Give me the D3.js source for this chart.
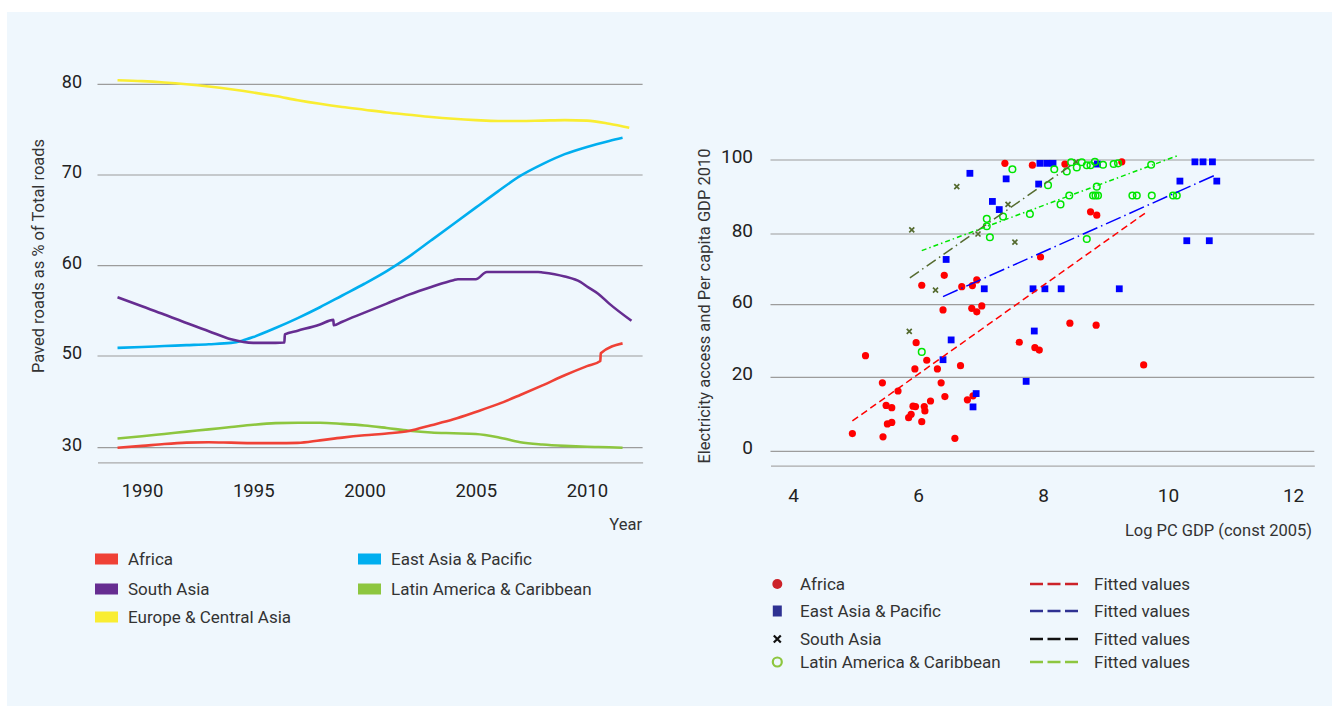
<!DOCTYPE html>
<html><head><meta charset="utf-8">
<script src="https://cdn.jsdelivr.net/npm/d3@7"></script>
<style>
body{margin:0;background:#fff;}
svg{display:block;font-family:Roboto,"Liberation Sans",sans-serif;}
</style></head><body>
<svg id="c" width="1339" height="708"></svg>
<script>
// ---------- LEFT CHART DATA ----------
const leftYTicks = [30, 50, 60, 70, 80];
const leftXTicks = [1990, 1995, 2000, 2005, 2010];
const leftNames = ["Africa", "East Asia & Pacific", "South Asia", "Latin America & Caribbean", "Europe & Central Asia"];
const leftColors = ["#ef4136", "#00aeef", "#662d91", "#8dc63f", "#f9ed32"];
const africa = [[1988.9,30.0],[1990,30.4],[1991,30.8],[1992,31.1],[1993,31.2],[1994,31.1],[1995,31.0],[1996,31.0],[1997,31.05],[1998,31.6],[1999,32.2],[2000,32.7],[2001,33.1],[2002,33.65],[2003,34.9],[2004,36.2],[2005,37.8],[2006,39.5],[2007,41.5],[2008,43.6],[2009,45.8],[2010,47.8],[2010.6,48.9],[2010.62,50.3],[2011.6,51.4]];
const eastAsia = [[1988.9,50.9],[1990,51.0],[1991,51.1],[1992,51.2],[1993,51.3],[1994,51.45],[1994.5,51.7],[1995,52.1],[1996,53.1],[1997,54.2],[1998,55.4],[1999,56.7],[2000,58.0],[2001,59.4],[2002,61.0],[2003,62.8],[2004,64.6],[2005,66.4],[2006,68.2],[2007,69.9],[2008,71.2],[2009,72.3],[2010,73.1],[2011,73.75],[2011.6,74.1]];
const southAsia = [[1988.9,56.5],[1990,55.5],[1991,54.6],[1992,53.65],[1993,52.75],[1994,51.85],[1995,51.45],[1996,51.45],[1996.4,51.5],[1996.42,52.4],[1997,52.8],[1998,53.5],[1998.6,54.0],[1998.62,53.4],[1999,53.8],[2000,54.8],[2001,55.8],[2002,56.8],[2003,57.65],[2004,58.4],[2004.2,58.5],[2005,58.5],[2005.5,59.3],[2006,59.3],[2007,59.3],[2007.8,59.3],[2008,59.25],[2009,58.8],[2009.7,58.2],[2010,57.7],[2010.5,56.9],[2011,55.8],[2012,53.9]];
const latinAm = [[1988.9,32.0],[1990,32.5],[1991,33.0],[1992,33.5],[1993,34.0],[1994,34.5],[1995,35.0],[1996,35.35],[1997,35.45],[1998,35.45],[1999,35.2],[2000,34.85],[2001,34.3],[2002,33.7],[2003,33.3],[2004,33.15],[2005,33.0],[2006,32.3],[2007,31.2],[2008,30.7],[2009,30.4],[2010,30.2],[2011,30.1],[2011.6,30.0]];
const europe = [[1988.9,80.45],[1990,80.35],[1991,80.2],[1992,80.0],[1993,79.75],[1994,79.45],[1995,79.1],[1996,78.7],[1997,78.25],[1998,77.85],[1999,77.5],[2000,77.2],[2001,76.9],[2002,76.65],[2003,76.4],[2004,76.2],[2005,76.05],[2006,75.95],[2007,75.95],[2008,76.0],[2009,76.05],[2010,76.0],[2011,75.65],[2011.9,75.2]];

// ---------- RIGHT CHART DATA ----------
const rightYTicks = [0, 20, 60, 80, 100];
const rightXTicks = [4, 6, 8, 10, 12];
const ptAfrica = [[7.39,99.1],[7.83,98.6],[8.35,98.9],[9.26,99.5],[8.76,86.0],[8.86,85.1],[7.96,73.5],[6.06,65.5],[6.42,68.3],[6.70,65.1],[6.87,65.4],[6.94,67.0],[6.40,57.1],[6.86,58.0],[6.94,56.1],[7.02,59.3],[8.43,49.8],[8.85,48.7],[7.62,39.3],[7.87,36.3],[7.94,35.0],[9.61,26.8],[5.97,39.1],[5.16,31.9],[6.14,29.4],[5.95,24.6],[6.31,24.6],[6.68,26.4],[5.43,18.5],[5.68,16.3],[6.37,18.5],[6.43,14.8],[5.49,12.4],[5.58,11.8],[5.92,12.2],[5.96,12.1],[6.10,12.1],[6.11,10.9],[6.20,13.6],[6.79,13.9],[6.88,15.0],[5.89,10.0],[5.85,9.1],[5.51,7.4],[5.58,7.8],[6.06,8.0],[4.95,4.8],[5.44,3.9],[6.59,3.5]];
const ptEastAsia = [[6.83,96.4],[7.41,94.9],[7.19,88.8],[7.30,86.6],[6.45,72.8],[7.06,64.5],[7.95,99.1],[8.06,99.1],[8.16,99.1],[8.87,98.9],[7.93,93.5],[10.19,94.3],[10.43,99.5],[10.56,99.5],[10.71,99.5],[10.78,94.3],[10.30,78.1],[10.66,78.1],[7.84,64.5],[8.03,64.5],[8.29,64.5],[9.22,64.5],[6.53,40.6],[6.40,29.7],[6.93,15.6],[6.88,12.0],[7.86,45.5],[7.73,18.9]];
const ptSouthAsia = [[6.62,92.8],[7.44,88.0],[5.90,81.1],[6.96,80.0],[7.55,77.7],[6.28,64.1],[5.86,45.3],[8.53,99.5]];
const ptLatin = [[7.51,97.5],[7.10,84.1],[7.10,82.1],[7.36,84.7],[7.15,79.1],[7.79,85.4],[8.08,93.2],[8.18,97.5],[8.38,96.9],[8.45,99.4],[8.54,98.0],[8.62,99.4],[8.70,98.6],[8.76,98.6],[8.83,99.5],[8.96,98.7],[9.13,98.9],[9.20,99.1],[9.73,98.7],[8.86,92.8],[8.42,90.4],[8.80,90.4],[8.84,90.4],[8.88,90.4],[9.43,90.4],[9.50,90.4],[9.74,90.4],[10.08,90.4],[10.14,90.4],[8.28,88.0],[8.70,78.6],[6.06,34.0]];
const fitAfrica = [[4.95,8.2],[9.63,85.6]];
const fitEastAsia = [[6.40,62.3],[10.78,96.1]];
const fitSouthAsia = [[5.87,67.6],[8.53,99.5]];
const fitLatin = [[6.06,75.3],[10.14,101.1]];
const rightNames = ["Africa", "East Asia & Pacific", "South Asia", "Latin America & Caribbean"];

// ---------- DRAW ----------
const svg = d3.select("#c");
svg.append("rect").attr("x",7).attr("y",12).attr("width",1325).attr("height",694).attr("fill","#eff7fd");

const gridColor = "#9c9c9c";
const textColor = "#222";

// LEFT
const xL = d3.scaleLinear().domain([1988, 2012.5]).range([97.5, 642.6]);
const yL = d3.scaleLinear().domain([30, 50, 60, 70, 80]).range([447.7, 356, 265.7, 175, 84.3]);
const gL = svg.append("g");
gL.append("g").selectAll("line").data(leftYTicks).join("line")
  .attr("x1", xL(1988)).attr("x2", xL(2012.5))
  .attr("y1", d => yL(d)).attr("y2", d => yL(d))
  .attr("stroke", gridColor).attr("stroke-width", 1.2);
gL.append("g").selectAll("text").data(leftYTicks).join("text")
  .attr("x", 82).attr("y", d => yL(d) - 3).attr("dy", "0.35em")
  .attr("text-anchor", "end").attr("font-size", 18).attr("fill", textColor)
  .text(d => d);
const axL = gL.append("g").attr("transform", "translate(0,462.3)")
  .call(d3.axisBottom(xL).tickValues(leftXTicks).tickSize(0).tickPadding(22).tickFormat(d3.format("d")));
axL.select(".domain").attr("stroke", "#aaa").attr("stroke-width", 1.2);
axL.selectAll("text").attr("font-size", 18.5).attr("fill", textColor).attr("font-family", "Roboto, sans-serif");
gL.append("text").attr("x", 642).attr("y", 530).attr("text-anchor", "end")
  .attr("font-size", 16.5).attr("fill", "#333").text("Year");
gL.append("text").attr("transform", "translate(44,256) rotate(-90)").attr("text-anchor", "middle")
  .attr("font-size", 16.5).attr("fill", "#333").text("Paved roads as % of Total roads");

const lineL = d3.line().x(d => xL(d[0])).y(d => yL(d[1])).curve(d3.curveMonotoneX);
const leftSeries = [latinAm, africa, europe, eastAsia, southAsia];
const leftSeriesColors = [leftColors[3], leftColors[0], leftColors[4], leftColors[1], leftColors[2]];
gL.append("g").selectAll("path").data(leftSeries).join("path")
  .attr("d", lineL).attr("fill", "none")
  .attr("stroke", (d, i) => leftSeriesColors[i]).attr("stroke-width", 2.6)
  .attr("stroke-linejoin", "round");

// Left legend
const legL = [
  {n: leftNames[0], c: leftColors[0], x: 95, y: 559},
  {n: leftNames[1], c: leftColors[1], x: 358, y: 559},
  {n: leftNames[2], c: leftColors[2], x: 95, y: 589},
  {n: leftNames[3], c: leftColors[3], x: 358, y: 589},
  {n: leftNames[4], c: leftColors[4], x: 95, y: 617}
];
const lg = gL.append("g").selectAll("g").data(legL).join("g");
lg.append("rect").attr("x", d => d.x).attr("y", d => d.y - 5.5).attr("width", 23).attr("height", 11).attr("fill", d => d.c);
lg.append("text").attr("x", d => d.x + 33).attr("y", d => d.y).attr("dy", "0.35em")
  .attr("font-size", 17).attr("fill", "#333").text(d => d.n);

// RIGHT
const xR = d3.scaleLinear().domain([3.64, 12.34]).range([770.5, 1314.3]);
const yR = d3.scaleLinear().domain([0, 20, 60, 80, 100]).range([451.3, 377.3, 304.7, 234, 160]);
const gR = svg.append("g");
gR.append("g").selectAll("line").data(rightYTicks).join("line")
  .attr("x1", xR(3.64)).attr("x2", xR(12.34))
  .attr("y1", d => yR(d)).attr("y2", d => yR(d))
  .attr("stroke", gridColor).attr("stroke-width", 1.2);
gR.append("g").selectAll("text").data(rightYTicks).join("text")
  .attr("x", 753).attr("y", d => yR(d) - 3.5).attr("dy", "0.35em")
  .attr("text-anchor", "end").attr("font-size", 19).attr("fill", textColor)
  .text(d => d);
const axR = gR.append("g").attr("transform", "translate(0,465.7)")
  .call(d3.axisBottom(xR).tickValues(rightXTicks).tickSize(0).tickPadding(23));
axR.select(".domain").attr("stroke", "#aaa").attr("stroke-width", 1.2);
axR.selectAll("text").attr("font-size", 19).attr("fill", textColor).attr("font-family", "Roboto, sans-serif");
gR.append("text").attr("x", 1312).attr("y", 536).attr("text-anchor", "end")
  .attr("font-size", 16.5).attr("fill", "#333").text("Log PC GDP (const 2005)");
gR.append("text").attr("transform", "translate(710,306) rotate(-90)").attr("text-anchor", "middle")
  .attr("font-size", 16.5).attr("fill", "#333").text("Electricity access and Per capita GDP 2010");

// points
gR.append("g").selectAll("circle").data(ptAfrica).join("circle")
  .attr("cx", d => xR(d[0])).attr("cy", d => yR(d[1])).attr("r", 3.6).attr("fill", "#ff0000");
gR.append("g").selectAll("rect").data(ptEastAsia).join("rect")
  .attr("x", d => xR(d[0]) - 3.4).attr("y", d => yR(d[1]) - 3.4).attr("width", 6.8).attr("height", 6.8).attr("fill", "#0000ff");
gR.append("g").selectAll("path").data(ptSouthAsia).join("path")
  .attr("d", d => { const x = xR(d[0]), y = yR(d[1]), s = 2.5; return `M${x-s},${y-s}L${x+s},${y+s}M${x-s},${y+s}L${x+s},${y-s}`; })
  .attr("stroke", "#556b2f").attr("stroke-width", 1.7);
gR.append("g").selectAll("circle").data(ptLatin).join("circle")
  .attr("cx", d => xR(d[0])).attr("cy", d => yR(d[1])).attr("r", 3.3)
  .attr("fill", "none").attr("stroke", "#00e600").attr("stroke-width", 1.5);

// fitted lines
const lineR = d3.line().x(d => xR(d[0])).y(d => yR(d[1]));
const fits = [
  {d: fitAfrica, c: "#ff0000", dash: "7,4"},
  {d: fitEastAsia, c: "#0000ff", dash: "16,4,1.5,4"},
  {d: fitSouthAsia, c: "#556b2f", dash: "11,4,1.5,4"},
  {d: fitLatin, c: "#00e600", dash: "5,3,1.5,3"}
];
gR.append("g").selectAll("path").data(fits).join("path")
  .attr("d", f => lineR(f.d)).attr("fill", "none")
  .attr("stroke", f => f.c).attr("stroke-width", 1.5).attr("stroke-dasharray", f => f.dash);

// right legend
const legR = [
  {n: rightNames[0], y: 584, c: "#cc2229", fc: "#cc2229", sym: "dot"},
  {n: rightNames[1], y: 611, c: "#2e3192", fc: "#2e3192", sym: "sq"},
  {n: rightNames[2], y: 639, c: "#111", fc: "#111", sym: "x"},
  {n: rightNames[3], y: 662, c: "#8dc63f", fc: "#8dc63f", sym: "ring"}
];
const rg = gR.append("g").selectAll("g").data(legR).join("g");
rg.each(function(d) {
  const g = d3.select(this), cx = 777.3, cy = d.y;
  if (d.sym === "dot") g.append("circle").attr("cx", cx).attr("cy", cy).attr("r", 5).attr("fill", d.c);
  else if (d.sym === "sq") g.append("rect").attr("x", cx - 4.5).attr("y", cy - 5.5).attr("width", 9).attr("height", 11).attr("fill", d.c);
  else if (d.sym === "x") g.append("path").attr("d", `M${cx-3.5},${cy-3.5}L${cx+3.5},${cy+3.5}M${cx-3.5},${cy+3.5}L${cx+3.5},${cy-3.5}`).attr("stroke", d.c).attr("stroke-width", 2.2);
  else g.append("circle").attr("cx", cx).attr("cy", cy).attr("r", 4.5).attr("fill", "none").attr("stroke", d.c).attr("stroke-width", 2.2);
  g.append("text").attr("x", 800).attr("y", cy).attr("dy", "0.35em").attr("font-size", 17).attr("fill", "#333").text(d.n);
  g.append("line").attr("x1", 1030).attr("x2", 1078).attr("y1", cy).attr("y2", cy)
    .attr("stroke", d.fc).attr("stroke-width", 2.4).attr("stroke-dasharray", "13,4.5");
  g.append("text").attr("x", 1094).attr("y", cy).attr("dy", "0.35em").attr("font-size", 17).attr("fill", "#333").text("Fitted values");
});
</script>
</body></html>
